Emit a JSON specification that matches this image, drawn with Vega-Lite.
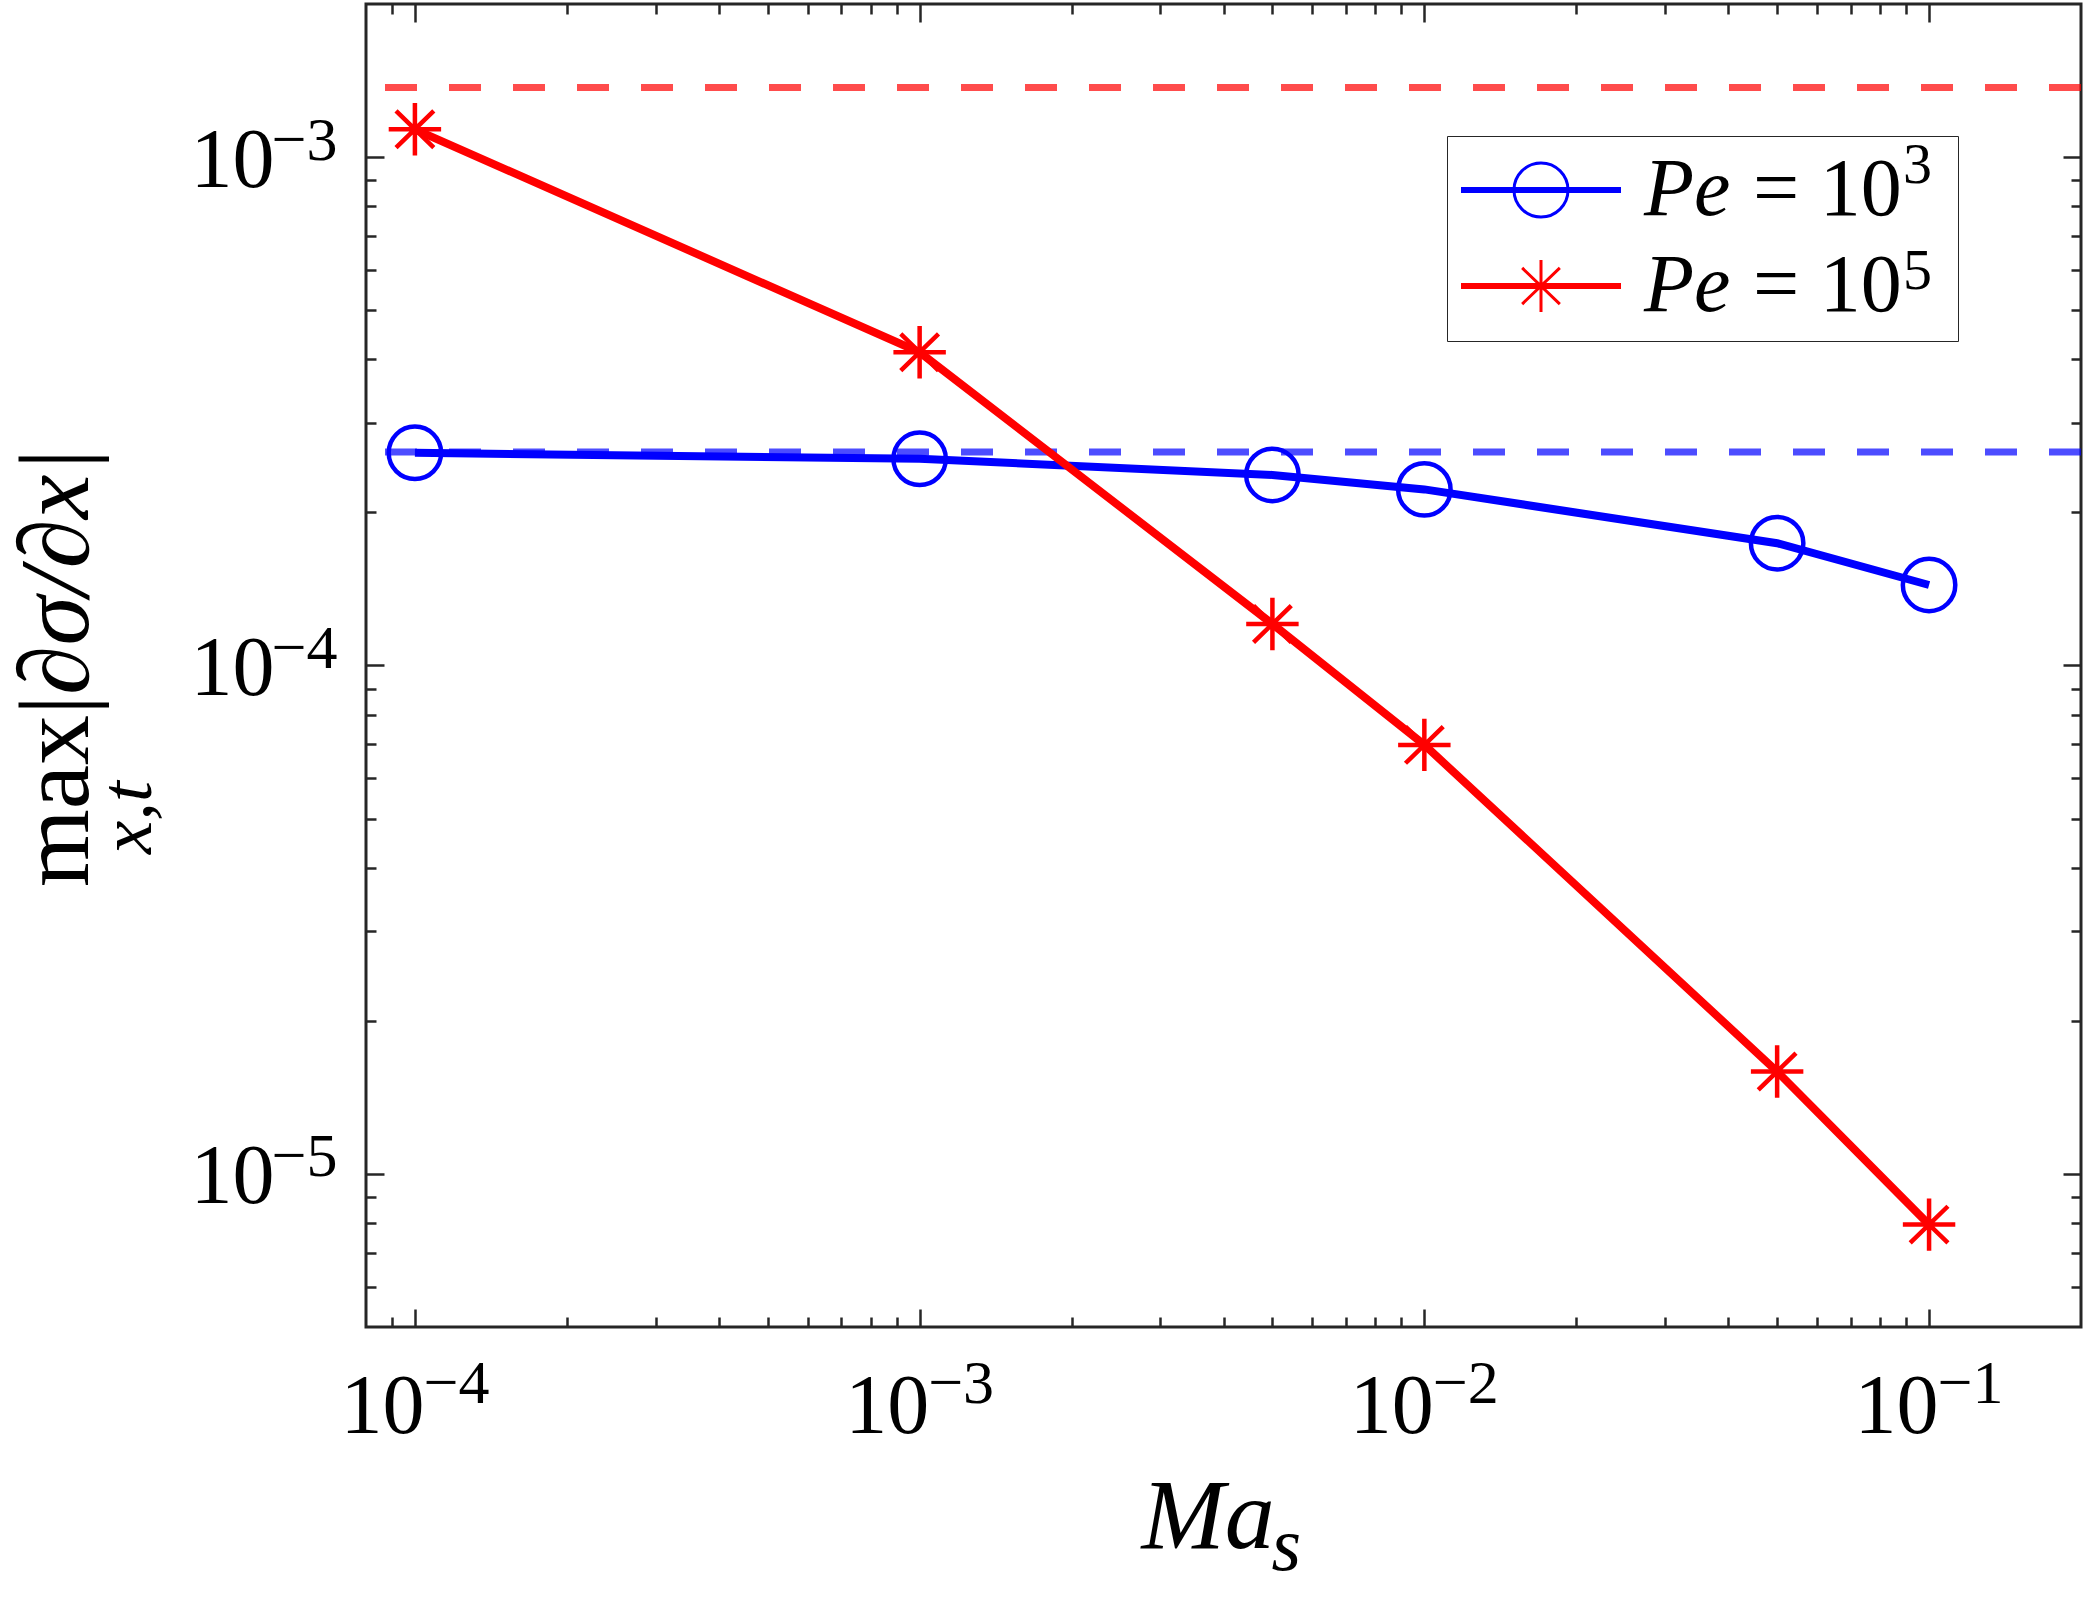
{
  "$schema": "https://vega.github.io/schema/vega-lite/v6.json",
  "width": 1715,
  "height": 1323,
  "autosize": {"type": "none"},
  "padding": {"left": 366, "top": 4, "right": 5, "bottom": 272},
  "background": "white",
  "config": {
    "view": {"stroke": "#262626", "strokeWidth": 3},
    "axis": {"grid": false, "labelColor": "#000000", "titleColor": "#000000", "labelFont": "Liberation Serif", "titleFont": "Liberation Serif", "titleFontWeight": "normal", "labelOverlap": false, "labelFlush": false, "labelBound": false, "tickColor": "#262626", "tickWidth": 2.5},
    "legend": {"orient": "none", "title": null, "padding": 14, "labelFont": "Liberation Serif", "labelColor": "#000000", "labelLimit": 0, "clipHeight": 80, "legendX": 1081}
  },
  "datasets": {
    "main": [
      {"Ma": 0.0001, "v": 0.000262, "s": "Pe = 10³"},
      {"Ma": 0.001, "v": 0.000255, "s": "Pe = 10³"},
      {"Ma": 0.005, "v": 0.000237, "s": "Pe = 10³"},
      {"Ma": 0.01, "v": 0.000222, "s": "Pe = 10³"},
      {"Ma": 0.05, "v": 0.000174, "s": "Pe = 10³"},
      {"Ma": 0.1, "v": 0.000144, "s": "Pe = 10³"},
      {"Ma": 0.0001, "v": 0.001134, "s": "Pe = 10⁵"},
      {"Ma": 0.001, "v": 0.000413, "s": "Pe = 10⁵"},
      {"Ma": 0.005, "v": 0.0001207, "s": "Pe = 10⁵"},
      {"Ma": 0.01, "v": 0.0000698, "s": "Pe = 10⁵"},
      {"Ma": 0.05, "v": 0.0000159, "s": "Pe = 10⁵"},
      {"Ma": 0.1, "v": 0.00000795, "s": "Pe = 10⁵"}
    ],
    "ref": [
      {"v": 0.00137, "s": "Pe = 10⁵"},
      {"v": 0.000263, "s": "Pe = 10³"}
    ]
  },
  "resolve": {
    "axis": {"x": "independent", "y": "independent"},
    "scale": {"color": "independent", "shape": "independent"}
  },
  "layer": [
    {
      "data": {"name": "ref"},
      "mark": {"type": "rule", "strokeWidth": 7, "strokeDash": [32, 32], "opacity": 0.7},
      "encoding": {
        "y": {"field": "v", "type": "quantitative", "scale": {"type": "log", "domain": [0.000005, 0.002], "nice": false}, "axis": null},
        "color": {"field": "s", "type": "nominal", "scale": {"domain": ["Pe = 10³", "Pe = 10⁵"], "range": ["#0000ff", "#ff0000"]}, "legend": null}
      }
    },
    {
      "data": {"name": "main"},
      "mark": {"type": "line", "strokeWidth": 8},
      "encoding": {
        "x": {"field": "Ma", "type": "quantitative", "scale": {"type": "log", "domain": [0.00008, 0.2], "nice": false},
          "axis": {"orient": "bottom", "values": [0.0001, 0.001, 0.01, 0.1], "labelExpr": "'10'", "labelFontSize": 84, "labelAlign": "right", "labelOffset": 9, "labelBaseline": "alphabetic", "labelPadding": 105, "ticks": false, "domain": false,
            "title": "Ma", "titleFontStyle": "italic", "titleFontSize": 100, "titleAlign": "left", "titleBaseline": "alphabetic", "titleX": 775, "titleY": 220}},
        "y": {"field": "v", "type": "quantitative", "scale": {"type": "log", "domain": [0.000005, 0.002], "nice": false},
          "axis": {"orient": "left", "values": [0.00001, 0.0001, 0.001], "labelExpr": "'10'", "labelFontSize": 84, "labelAlign": "right", "labelBaseline": "alphabetic", "labelOffset": 29, "labelPadding": 92, "ticks": false, "domain": false,
            "title": "max|∂", "titleFontSize": 100, "titleAngle": 270, "titleAlign": "right", "titleBaseline": "alphabetic", "titleX": -279, "titleY": 641}},
        "color": {"field": "s", "type": "nominal", "scale": {"domain": ["Pe = 10³", "Pe = 10⁵"], "range": ["#0000ff", "#ff0000"]},
          "legend": {"legendY": 132, "strokeColor": "transparent", "fillColor": "transparent", "symbolType": "stroke", "symbolSize": 24649, "symbolOpacity": 0, "symbolStrokeWidth": 0, "labelExpr": "'Pe'", "labelFontStyle": "italic", "labelFontSize": 82, "labelOffset": 26, "rowPadding": 14}}
      }
    },
    {
      "data": {"name": "main"},
      "mark": {"type": "point", "filled": false, "size": 2750, "strokeWidth": 4.5, "opacity": 1},
      "encoding": {
        "x": {"field": "Ma", "type": "quantitative", "scale": {"type": "log", "domain": [0.00008, 0.2], "nice": false},
          "axis": {"orient": "bottom", "values": [0.0001, 0.001, 0.01, 0.1], "labelExpr": "'−' + round(-log(datum.value)/LN10)", "labelFontSize": 62, "labelAlign": "left", "labelOffset": 8, "labelBaseline": "alphabetic", "labelPadding": 75, "ticks": false, "domain": false,
            "title": "s", "titleFontStyle": "italic", "titleFontSize": 76, "titleAlign": "left", "titleBaseline": "alphabetic", "titleX": 905, "titleY": 242}},
        "y": {"field": "v", "type": "quantitative", "scale": {"type": "log", "domain": [0.000005, 0.002], "nice": false},
          "axis": {"orient": "left", "values": [0.00001, 0.0001, 0.001], "labelExpr": "'−' + round(-log(datum.value)/LN10)", "labelFontSize": 62, "labelAlign": "left", "labelBaseline": "alphabetic", "labelOffset": 2, "labelPadding": 95, "ticks": false, "domain": false,
            "title": "x,t", "titleFontStyle": "italic", "titleFontSize": 75, "titleAngle": 270, "titleAlign": "center", "titleBaseline": "alphabetic", "titleX": -216, "titleY": 813}},
        "color": {"field": "s", "type": "nominal", "scale": {"domain": ["Pe = 10³", "Pe = 10⁵"], "range": ["#0000ff", "#ff0000"]},
          "legend": {"legendY": 108, "strokeColor": "transparent", "fillColor": "transparent", "symbolType": "stroke", "symbolSize": 24649, "symbolOpacity": 0, "symbolStrokeWidth": 0, "labelExpr": "datum.label == 'Pe = 10³' ? '3' : '5'", "labelFontSize": 58, "labelOffset": 285, "rowPadding": 26}},
        "shape": {"field": "s", "type": "nominal", "scale": {"domain": ["Pe = 10³", "Pe = 10⁵"], "range": ["circle", "M-1,0L1,0M0,-1L0,1M-0.72,-0.7L0.72,0.7M-0.72,0.7L0.72,-0.7"]}, "legend": null}
      }
    },
    {
      "data": {"name": "main"},
      "mark": {"type": "point", "opacity": 0},
      "encoding": {
        "x": {"field": "Ma", "type": "quantitative", "scale": {"type": "log", "domain": [0.00008, 0.2], "nice": false},
          "axis": {"orient": "bottom", "values": [0.00009, 0.0001, 0.0002, 0.0003, 0.0004, 0.0005, 0.0006, 0.0007, 0.0008, 0.0009, 0.001, 0.002, 0.003, 0.004, 0.005, 0.006, 0.007, 0.008, 0.009, 0.01, 0.02, 0.03, 0.04, 0.05, 0.06, 0.07, 0.08, 0.09, 0.1],
            "labels": false, "domain": false, "title": null,
            "tickSize": {"condition": {"test": "abs(log(datum.value)/LN10 - round(log(datum.value)/LN10)) < 0.01", "value": -18}, "value": -10}}},
        "y": {"field": "v", "type": "quantitative", "scale": {"type": "log", "domain": [0.000005, 0.002], "nice": false},
          "axis": {"orient": "left", "values": [0.000006, 0.000007, 0.000008, 0.000009, 0.00001, 0.00002, 0.00003, 0.00004, 0.00005, 0.00006, 0.00007, 0.00008, 0.00009, 0.0001, 0.0002, 0.0003, 0.0004, 0.0005, 0.0006, 0.0007, 0.0008, 0.0009, 0.001],
            "labels": false, "domain": false,
            "title": "σ/∂x|", "titleFontStyle": "italic", "titleFontSize": 100, "titleAngle": 270, "titleAlign": "left", "titleBaseline": "alphabetic", "titleX": -279, "titleY": 641,
            "tickSize": {"condition": {"test": "abs(log(datum.value)/LN10 - round(log(datum.value)/LN10)) < 0.01", "value": -18}, "value": -10}}},
        "color": {"field": "s", "type": "nominal", "scale": {"domain": ["Pe = 10³", "Pe = 10⁵"], "range": ["#0000ff", "#ff0000"]},
          "legend": {"legendY": 132, "strokeColor": "transparent", "fillColor": "transparent", "symbolType": "stroke", "symbolSize": 24649, "symbolOpacity": 0, "symbolStrokeWidth": 0, "labelExpr": "'= 10'", "labelFontSize": 82, "labelOffset": 135, "rowPadding": 14}}
      }
    },
    {
      "data": {"name": "main"},
      "mark": {"type": "point", "opacity": 0, "filled": false},
      "encoding": {
        "x": {"field": "Ma", "type": "quantitative", "scale": {"type": "log", "domain": [0.00008, 0.2], "nice": false},
          "axis": {"orient": "top", "values": [0.00009, 0.0001, 0.0002, 0.0003, 0.0004, 0.0005, 0.0006, 0.0007, 0.0008, 0.0009, 0.001, 0.002, 0.003, 0.004, 0.005, 0.006, 0.007, 0.008, 0.009, 0.01, 0.02, 0.03, 0.04, 0.05, 0.06, 0.07, 0.08, 0.09, 0.1],
            "labels": false, "domain": false, "title": null,
            "tickSize": {"condition": {"test": "abs(log(datum.value)/LN10 - round(log(datum.value)/LN10)) < 0.01", "value": -18}, "value": -10}}},
        "y": {"field": "v", "type": "quantitative", "scale": {"type": "log", "domain": [0.000005, 0.002], "nice": false},
          "axis": {"orient": "right", "values": [0.000006, 0.000007, 0.000008, 0.000009, 0.00001, 0.00002, 0.00003, 0.00004, 0.00005, 0.00006, 0.00007, 0.00008, 0.00009, 0.0001, 0.0002, 0.0003, 0.0004, 0.0005, 0.0006, 0.0007, 0.0008, 0.0009, 0.001],
            "labels": false, "domain": false, "title": null,
            "tickSize": {"condition": {"test": "abs(log(datum.value)/LN10 - round(log(datum.value)/LN10)) < 0.01", "value": -18}, "value": -10}}},
        "color": {"field": "s", "type": "nominal", "scale": {"domain": ["Pe = 10³", "Pe = 10⁵"], "range": ["#0000ff", "#ff0000"]},
          "legend": {"legendY": 132, "strokeColor": "#262626", "fillColor": "transparent", "symbolSize": 24649, "symbolStrokeWidth": 3, "symbolOpacity": 1, "labelExpr": "'|'", "labelOpacity": 0, "labelFontSize": 82, "labelOffset": 306, "rowPadding": 14}},
        "shape": {"field": "s", "type": "nominal", "scale": {"domain": ["Pe = 10³", "Pe = 10⁵"], "range": ["M-1,-0.02L1,-0.02L1,0.02L-1,0.02ZM-0.344,0A0.344,0.344,0,1,1,0.344,0A0.344,0.344,0,1,1,-0.344,0", "M-1,-0.02L1,-0.02L1,0.02L-1,0.02ZM-0.33,0L0.33,0M0,-0.33L0,0.33M-0.24,-0.23L0.24,0.23M-0.24,0.23L0.24,-0.23"]},
          "legend": {"legendY": 132, "strokeColor": "#262626", "fillColor": "transparent", "symbolSize": 24649, "symbolStrokeWidth": 3, "symbolOpacity": 1, "labelExpr": "'|'", "labelOpacity": 0, "labelFontSize": 82, "labelOffset": 306, "rowPadding": 14}}
      }
    }
  ]
}
